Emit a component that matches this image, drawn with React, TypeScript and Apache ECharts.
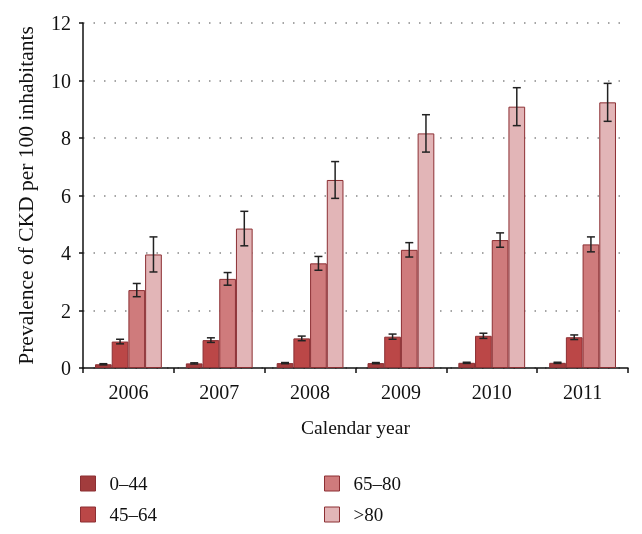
import React, { useEffect, useRef } from "react";
import * as echarts from "echarts";

const years = ["2006", "2007", "2008", "2009", "2010", "2011"];
const groups = ["0–44", "45–64", "65–80", ">80"];
const v0_44 = [0.13, 0.16, 0.17, 0.17, 0.18, 0.18];
const v45_64 = [0.92, 0.97, 1.03, 1.09, 1.12, 1.07];
const v65_80 = [2.71, 3.1, 3.64, 4.11, 4.45, 4.3];
const v80 = [3.95, 4.85, 6.54, 8.16, 9.09, 9.24];
const e0_44 = [0.02, 0.02, 0.02, 0.02, 0.02, 0.02];
const e45_64 = [0.08, 0.08, 0.08, 0.09, 0.09, 0.08];
const e65_80 = [0.23, 0.22, 0.24, 0.25, 0.25, 0.26];
const e80 = [0.61, 0.6, 0.64, 0.65, 0.66, 0.66];
const yTicks = [0, 2, 4, 6, 8, 10, 12];

const colors = ["#a23c3d", "#bb4747", "#cf7b7c", "#e2b5b7"];
const FONT = "Liberation Serif";

export default function App() {
  const ref = useRef<HTMLDivElement>(null);
  useEffect(() => {
    const chart = echarts.init(ref.current!, null, { renderer: "svg" });
    const values = [v0_44, v45_64, v65_80, v80];
    const errs = [e0_44, e45_64, e65_80, e80];
    const barW = 16.7;
    const barSeries = values.map((vals, i) => ({
      name: groups[i],
      type: "bar",
      data: vals,
      barWidth: barW,
      barGap: "0%",
      itemStyle: { color: colors[i], borderColor: "#8c2f33", borderWidth: 1 },
    }));
    const errSeries = values.map((vals, i) => ({
      type: "custom",
      name: "err" + i,
      data: vals.map((v, j) => [j, v - errs[i][j], v + errs[i][j]]),
      z: 10,
      renderItem: (params: any, api: any) => {
        const idx = api.value(0);
        const lo = api.coord([idx, api.value(1)]);
        const hi = api.coord([idx, api.value(2)]);
        const x = lo[0] + (i - 1.5) * barW;
        const cap = 4;
        const style = { stroke: "#222", lineWidth: 1.5 };
        return {
          type: "group",
          children: [
            { type: "line", shape: { x1: x, y1: lo[1], x2: x, y2: hi[1] }, style },
            { type: "line", shape: { x1: x - cap, y1: lo[1], x2: x + cap, y2: lo[1] }, style },
            { type: "line", shape: { x1: x - cap, y1: hi[1], x2: x + cap, y2: hi[1] }, style },
          ],
        };
      },
    }));
    const legendCommon = {
      orient: "vertical",
      icon: "rect",
      padding: 0,
      itemWidth: 15,
      itemHeight: 15,
      itemGap: 12,
      textStyle: {
        fontFamily: FONT,
        fontSize: 19,
        lineHeight: 15,
        color: "#111",
        padding: [0, 0, 0, 9],
      },
      itemStyle: { borderColor: "#8c2f33", borderWidth: 1 },
    };
    chart.setOption({
      animation: false,
      textStyle: { fontFamily: FONT },
      grid: { left: 83, right: 14, top: 23, bottom: 166, containLabel: false },
      legend: [
        { ...legendCommon, left: 80, top: 474, data: [groups[0], groups[1]] },
        { ...legendCommon, left: 324, top: 474, data: [groups[2], groups[3]] },
      ],
      xAxis: {
        type: "category",
        data: years,
        name: "Calendar year",
        nameLocation: "middle",
        nameGap: 49,
        nameTextStyle: { fontFamily: FONT, fontSize: 19.5, color: "#111" },
        axisLine: { lineStyle: { color: "#111", width: 1.5 } },
        axisTick: { show: true, length: 5, lineStyle: { color: "#111", width: 1.5 } },
        axisLabel: { fontFamily: FONT, fontSize: 20, color: "#111", margin: 14 },
      },
      yAxis: {
        type: "value",
        min: 0,
        max: 12,
        interval: 2,
        name: "Prevalence of CKD per 100 inhabitants",
        nameLocation: "middle",
        nameGap: 46,
        nameTextStyle: { fontFamily: FONT, fontSize: 21.5, color: "#111" },
        axisLine: { show: true, lineStyle: { color: "#111", width: 1.5 } },
        axisTick: { show: true, length: 4, lineStyle: { color: "#111", width: 1.5 } },
        axisLabel: {
          fontFamily: FONT,
          fontSize: 20,
          color: "#111",
          margin: 12,
          formatter: (v: number) => (yTicks.includes(v) ? String(v) : ""),
        },
        splitLine: { show: true, lineStyle: { color: "#888", type: [1.5, 9], width: 1.5 } },
      },
      series: [...barSeries, ...errSeries],
    });
    return () => chart.dispose();
  }, []);
  return (
    <div
      ref={ref}
      style={{ position: "fixed", left: 0, top: 0, width: 642, height: 534 }}
    />
  );
}
